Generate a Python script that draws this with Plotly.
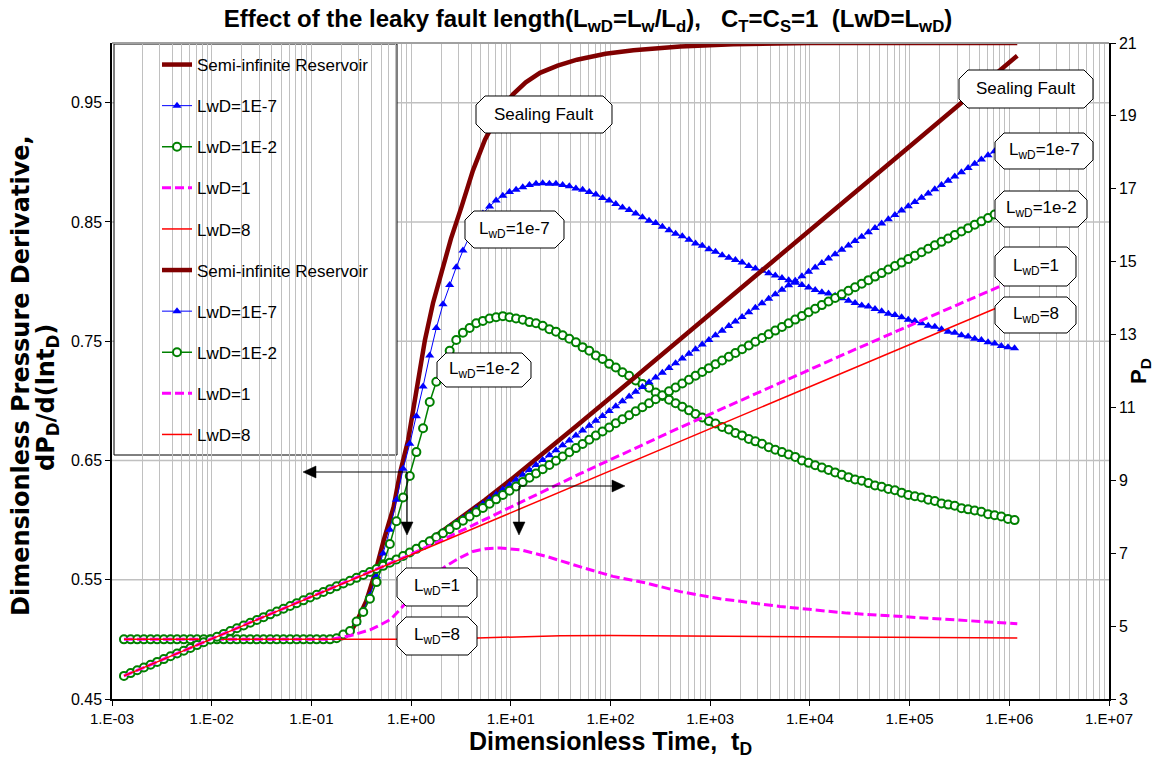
import plotly.graph_objects as go

# ---------------- data ----------------
# common log10(tD) grid of the marker series
LOG_T = [-2.880, -2.813, -2.747, -2.680, -2.613, -2.547, -2.480, -2.413, -2.347, -2.280,
         -2.213, -2.147, -2.080, -2.013, -1.947, -1.880, -1.813, -1.747, -1.680, -1.613,
         -1.547, -1.480, -1.413, -1.347, -1.280, -1.213, -1.147, -1.080, -1.013, -0.947,
         -0.880, -0.813, -0.747, -0.680, -0.613, -0.547, -0.480, -0.413, -0.347, -0.280,
         -0.213, -0.147, -0.080, -0.013, 0.053, 0.120, 0.187, 0.253, 0.320, 0.387,
         0.453, 0.520, 0.587, 0.653, 0.720, 0.787, 0.853, 0.920, 0.987, 1.053,
         1.120, 1.187, 1.253, 1.320, 1.387, 1.453, 1.520, 1.587, 1.653, 1.720,
         1.787, 1.853, 1.920, 1.987, 2.053, 2.120, 2.187, 2.253, 2.320, 2.387,
         2.453, 2.520, 2.587, 2.653, 2.720, 2.787, 2.853, 2.920, 2.987, 3.053,
         3.120, 3.187, 3.253, 3.320, 3.387, 3.453, 3.520, 3.587, 3.653, 3.720,
         3.787, 3.853, 3.920, 3.987, 4.053, 4.120, 4.187, 4.253, 4.320, 4.387,
         4.453, 4.520, 4.587, 4.653, 4.720, 4.787, 4.853, 4.920, 4.987, 5.053,
         5.120, 5.187, 5.253, 5.320, 5.387, 5.453, 5.520, 5.587, 5.653, 5.720,
         5.787, 5.853, 5.920, 5.987, 6.053]

# LwD = 1E-7 : derivative (left axis) and pressure (right axis)
BLUE_DERIV = [0.5, 0.5, 0.5, 0.5, 0.5, 0.5, 0.5, 0.5, 0.5, 0.5,
              0.5, 0.5, 0.5, 0.5, 0.5, 0.5, 0.5, 0.5, 0.5, 0.5,
              0.5, 0.5, 0.5, 0.5, 0.5, 0.5, 0.5, 0.5, 0.5, 0.5,
              0.5, 0.5, 0.501, 0.503, 0.507, 0.514, 0.524, 0.537, 0.553, 0.572,
              0.592, 0.617, 0.643, 0.664, 0.687, 0.712, 0.738, 0.761, 0.781, 0.797,
              0.812, 0.826, 0.838, 0.848, 0.857, 0.863, 0.868, 0.872, 0.875, 0.877,
              0.879, 0.881, 0.882, 0.8825, 0.882, 0.882, 0.881, 0.880, 0.878, 0.877,
              0.875, 0.873, 0.870, 0.868, 0.865, 0.862, 0.860, 0.857, 0.854, 0.851,
              0.849, 0.846, 0.843, 0.840, 0.838, 0.835, 0.832, 0.830, 0.827, 0.825,
              0.822, 0.820, 0.818, 0.816, 0.813, 0.811, 0.809, 0.807, 0.805, 0.803,
              0.801, 0.799, 0.797, 0.795, 0.793, 0.791, 0.790, 0.788, 0.786, 0.784,
              0.782, 0.780, 0.779, 0.777, 0.775, 0.773, 0.772, 0.770, 0.768, 0.767,
              0.765, 0.763, 0.762, 0.760, 0.758, 0.757, 0.755, 0.754, 0.752, 0.751,
              0.749, 0.748, 0.746, 0.745, 0.744]
BLUE_PRESS = [3.634, 3.711, 3.788, 3.864, 3.941, 4.018, 4.095, 4.172, 4.248, 4.325,
              4.402, 4.479, 4.555, 4.632, 4.709, 4.786, 4.863, 4.939, 5.016, 5.093,
              5.170, 5.246, 5.323, 5.400, 5.477, 5.554, 5.630, 5.707, 5.784, 5.861,
              5.937, 6.014, 6.091, 6.168, 6.245, 6.324, 6.403, 6.485, 6.568, 6.655,
              6.744, 6.837, 6.934, 7.034, 7.138, 7.245, 7.356, 7.471, 7.590, 7.711,
              7.834, 7.960, 8.088, 8.217, 8.348, 8.480, 8.613, 8.746, 8.880, 9.015,
              9.150, 9.285, 9.420, 9.555, 9.691, 9.826, 9.961, 10.096, 10.231, 10.366,
              10.500, 10.635, 10.768, 10.902, 11.035, 11.167, 11.299, 11.431, 11.563, 11.693,
              11.824, 11.954, 12.084, 12.213, 12.342, 12.470, 12.598, 12.726, 12.853, 12.980,
              13.106, 13.232, 13.358, 13.484, 13.609, 13.733, 13.858, 13.982, 14.106, 14.229,
              14.352, 14.475, 14.597, 14.720, 14.841, 14.963, 15.084, 15.206, 15.326, 15.447,
              15.567, 15.687, 15.807, 15.926, 16.045, 16.164, 16.283, 16.401, 16.519, 16.637,
              16.755, 16.872, 16.989, 17.106, 17.222, 17.339, 17.455, 17.571, 17.686, 17.802,
              17.917, 18.032, 18.146, 18.261, 18.375]

# LwD = 1E-2
GREEN_DERIV = [0.5, 0.5, 0.5, 0.5, 0.5, 0.5, 0.5, 0.5, 0.5, 0.5,
               0.5, 0.5, 0.5, 0.5, 0.5, 0.5, 0.5, 0.5, 0.5, 0.5,
               0.5, 0.5, 0.5, 0.5, 0.5, 0.5, 0.5, 0.5, 0.5, 0.5,
               0.5, 0.5, 0.501, 0.504, 0.507, 0.515, 0.523, 0.534, 0.548, 0.563,
               0.580, 0.599, 0.619, 0.637, 0.657, 0.677, 0.699, 0.716, 0.730, 0.742,
               0.751, 0.757, 0.761, 0.765, 0.767, 0.769, 0.770, 0.771, 0.770, 0.769,
               0.768, 0.766, 0.765, 0.763, 0.760, 0.758, 0.755, 0.752, 0.749, 0.745,
               0.742, 0.738, 0.735, 0.731, 0.728, 0.724, 0.721, 0.717, 0.714, 0.711,
               0.707, 0.704, 0.701, 0.698, 0.695, 0.692, 0.689, 0.686, 0.683, 0.681,
               0.678, 0.676, 0.673, 0.671, 0.668, 0.666, 0.664, 0.661, 0.659, 0.657,
               0.655, 0.653, 0.650, 0.648, 0.646, 0.644, 0.642, 0.640, 0.638, 0.636,
               0.634, 0.633, 0.631, 0.629, 0.628, 0.626, 0.625, 0.623, 0.621, 0.620,
               0.619, 0.617, 0.616, 0.614, 0.613, 0.612, 0.610, 0.609, 0.608, 0.607,
               0.605, 0.604, 0.603, 0.601, 0.600]
GREEN_PRESS = [3.634, 3.711, 3.788, 3.864, 3.941, 4.018, 4.095, 4.172, 4.248, 4.325,
               4.402, 4.479, 4.555, 4.632, 4.709, 4.786, 4.863, 4.939, 5.016, 5.093,
               5.170, 5.246, 5.323, 5.400, 5.477, 5.554, 5.630, 5.707, 5.784, 5.861,
               5.937, 6.014, 6.091, 6.168, 6.246, 6.324, 6.404, 6.485, 6.568, 6.653,
               6.741, 6.831, 6.925, 7.021, 7.120, 7.223, 7.328, 7.437, 7.548, 7.661,
               7.775, 7.891, 8.008, 8.125, 8.242, 8.360, 8.478, 8.597, 8.715, 8.833,
               8.951, 9.069, 9.186, 9.304, 9.420, 9.537, 9.653, 9.769, 9.884, 9.999,
               10.113, 10.227, 10.340, 10.452, 10.564, 10.676, 10.787, 10.897, 11.007, 11.116,
               11.225, 11.333, 11.441, 11.548, 11.655, 11.762, 11.868, 11.973, 12.078, 12.183,
               12.287, 12.391, 12.495, 12.598, 12.701, 12.803, 12.905, 13.007, 13.108, 13.209,
               13.310, 13.410, 13.510, 13.610, 13.709, 13.808, 13.907, 14.005, 14.103, 14.201,
               14.299, 14.396, 14.493, 14.590, 14.686, 14.783, 14.879, 14.974, 15.070, 15.165,
               15.260, 15.355, 15.450, 15.544, 15.638, 15.732, 15.826, 15.920, 16.013, 16.106,
               16.199, 16.292, 16.385, 16.477, 16.569]

# Semi-infinite reservoir (sealing fault)
SEMI_LOG_T = [-2.88, -1.5, -0.8, -0.69, -0.6, -0.54, -0.45, -0.36, -0.275, -0.175,
              -0.11, -0.03, 0.05, 0.139, 0.22, 0.307, 0.4, 0.507, 0.62, 0.741,
              0.88, 1.022, 1.15, 1.293, 1.47, 1.664, 1.95, 2.23, 2.7, 3.23,
              4.0, 5.0, 6.08]
SEMI_DERIV = [0.5, 0.5, 0.5, 0.501, 0.507, 0.516, 0.532, 0.556, 0.583, 0.611,
              0.640, 0.667, 0.705, 0.751, 0.782, 0.807, 0.836, 0.863, 0.893, 0.919,
              0.941, 0.957, 0.967, 0.975, 0.981, 0.986, 0.991, 0.994, 0.997, 0.999,
              1.0, 1.0, 1.0]
SEMI_P_LOG_T = [-2.88, -0.7, -0.54, -0.36, -0.175, -0.03, 0.139, 0.307, 0.507, 0.741,
                1.022, 1.293, 1.664, 2.23, 2.7, 3.23, 4.0, 5.0, 6.08]
SEMI_PRESS = [3.634, 6.144, 6.331, 6.553, 6.802, 7.016, 7.292, 7.593, 7.978, 8.458,
              9.065, 9.668, 10.505, 11.795, 12.87, 14.09, 15.86, 18.16, 20.65]

# LwD = 1
MAG_LOG_T = [-2.88, -0.8, -0.613, -0.412, -0.312, -0.2, -0.058, 0.089, 0.2, 0.34,
             0.48, 0.62, 0.75, 0.89, 1.1, 1.36, 1.69, 2.025, 2.36, 2.70,
             3.10, 3.70, 4.37, 5.03, 5.71, 6.08]
MAG_DERIV = [0.5, 0.5, 0.503, 0.508, 0.512, 0.517, 0.530, 0.541, 0.551, 0.561,
             0.568, 0.5737, 0.576, 0.5766, 0.575, 0.5695, 0.561, 0.5528, 0.5472, 0.540,
             0.534, 0.5276, 0.522, 0.5184, 0.515, 0.5131]
MAG_P_LOG_T = [-2.88, -0.8, -0.412, -0.058, 0.34, 0.89, 1.69, 2.70, 3.70, 4.37,
               5.03, 5.71, 6.08]
MAG_PRESS = [3.634, 6.029, 6.478, 6.900, 7.400, 8.123, 9.175, 10.452, 11.682, 12.492,
             13.282, 14.091, 14.529]

# LwD = 8
RED_LOG_T = [-2.88, 0.0, 0.5, 0.9, 1.2, 1.5, 2.0, 3.0, 4.0, 5.0, 6.08]
RED_DERIV = [0.5, 0.5, 0.5008, 0.5015, 0.5025, 0.503, 0.5032, 0.5028, 0.502, 0.5015, 0.5011]
RED_P_LOG_T = [-2.88, 0.0, 1.0, 2.0, 3.0, 4.0, 5.0, 6.08]
RED_PRESS = [3.634, 6.95, 8.104, 9.260, 10.416, 11.571, 12.724, 13.97]

SERIES_NAMES = ["Semi-infinite Reservoir", "LwD=1E-7", "LwD=1E-2", "LwD=1", "LwD=8"]
X_TICK_VALS = [1e-3, 1e-2, 1e-1, 1e0, 1e1, 1e2, 1e3, 1e4, 1e5, 1e6, 1e7]
X_TICK_TEXT = ["1.E-03", "1.E-02", "1.E-01", "1.E+00", "1.E+01", "1.E+02",
               "1.E+03", "1.E+04", "1.E+05", "1.E+06", "1.E+07"]
Y_TICK_VALS = [0.45, 0.55, 0.65, 0.75, 0.85, 0.95]
Y2_TICK_VALS = [3, 5, 7, 9, 11, 13, 15, 17, 19, 21]

# ---------------- styling ----------------
ARIAL = "Liberation Sans, Arial, sans-serif"
NARROW = "Liberation Sans Narrow, Arial Narrow, Liberation Sans, sans-serif"
WIDE = "DejaVu Sans, Verdana, sans-serif"
MAROON, BLUE, GREEN, MAGENTA, RED = "#800000", "#0000FF", "#008000", "#FF00FF", "#FF0000"
GRID = "#c0c0c0"

W, H = 1154, 766
L, R, T, B = 112, 1109, 43, 699   # plot area in pixels


def fx(px):
    return (px - L) / (R - L)


def fy(py):
    return (B - py) / (B - T)


def tt(logs):
    return [10 ** v for v in logs]


fig = go.Figure()

styles = [
    dict(mode="lines", line=dict(color=MAROON, width=4.5)),
    dict(mode="lines+markers", line=dict(color=BLUE, width=1),
         marker=dict(symbol="triangle-up", size=8, color=BLUE)),
    dict(mode="lines+markers", line=dict(color=GREEN, width=1.5),
         marker=dict(symbol="circle", size=8, color="white", line=dict(color=GREEN, width=2))),
    dict(mode="lines", line=dict(color=MAGENTA, width=3, dash="9px,4px")),
    dict(mode="lines", line=dict(color=RED, width=1.5)),
]

deriv_sets = [(SEMI_LOG_T, SEMI_DERIV), (LOG_T, BLUE_DERIV), (LOG_T, GREEN_DERIV),
              (MAG_LOG_T, MAG_DERIV), (RED_LOG_T, RED_DERIV)]
press_sets = [(SEMI_P_LOG_T, SEMI_PRESS), (LOG_T, BLUE_PRESS), (LOG_T, GREEN_PRESS),
              (MAG_P_LOG_T, MAG_PRESS), (RED_P_LOG_T, RED_PRESS)]

gi = 0
for (lt, vals), name, st in zip(deriv_sets, SERIES_NAMES, styles):
    fig.add_trace(go.Scatter(x=tt(lt), y=vals, name=name, legendgroup=f"g{gi}",
                             yaxis="y", hoverinfo="skip", **st))
    gi += 1
for (lt, vals), name, st in zip(press_sets, SERIES_NAMES, styles):
    fig.add_trace(go.Scatter(x=tt(lt), y=vals, name=name, legendgroup=f"g{gi}",
                             yaxis="y2", hoverinfo="skip", **st))
    gi += 1

# ---------------- shapes ----------------
shapes = []
# white area hiding the vertical grid in the upper-left part (overlay plot area)
shapes.append(dict(type="rect", xref="paper", yref="paper", x0=0, x1=fx(848),
                   y0=fy(454), y1=1, fillcolor="white", line=dict(width=0), layer="between"))
for v in [0.55, 0.65, 0.75, 0.85, 0.95]:
    shapes.append(dict(type="line", xref="paper", yref="y", x0=0, x1=1, y0=v, y1=v,
                       line=dict(color=GRID, width=1.5), layer="between"))
# legend frame
shapes.append(dict(type="rect", xref="paper", yref="paper", x0=fx(114), x1=fx(397),
                   y0=fy(455), y1=fy(44), fillcolor="white",
                   line=dict(color="black", width=1), layer="between"))
# top border
shapes.append(dict(type="line", xref="paper", yref="paper", x0=0, x1=1, y0=1, y1=1,
                   line=dict(color="#a0a0a0", width=2), layer="above"))


def poly(pts, fill="white", lw=1.0):
    path = "M " + " L ".join(f"{fx(a):.5f},{fy(b):.5f}" for a, b in pts) + " Z"
    return dict(type="path", xref="paper", yref="paper", path=path, fillcolor=fill,
                line=dict(color="black", width=lw), layer="above")


def octagon(x0, y0, x1, y1, c=9):
    return poly([(x0 + c, y0), (x1 - c, y0), (x1, y0 + c), (x1, y1 - c),
                 (x1 - c, y1), (x0 + c, y1), (x0, y1 - c), (x0, y0 + c)])


def seg(x0, y0, x1, y1):
    return dict(type="line", xref="paper", yref="paper", x0=fx(x0), y0=fy(y0),
                x1=fx(x1), y1=fy(y1), line=dict(color="black", width=1.2), layer="above")


labels = [
    ((476, 96, 612, 133), "Sealing Fault"),
    ((465, 211, 564, 248), "L<sub>wD</sub>=1e-7"),
    ((437, 353, 531, 387), "L<sub>wD</sub>=1e-2"),
    ((397, 568, 477, 606), "L<sub>wD</sub>=1"),
    ((397, 617, 477, 655), "L<sub>wD</sub>=8"),
    ((959, 70, 1093, 108), "Sealing Fault"),
    ((995, 133, 1093, 169), "L<sub>wD</sub>=1e-7"),
    ((995, 191, 1087, 227), "L<sub>wD</sub>=1e-2"),
    ((995, 247, 1076, 286), "L<sub>wD</sub>=1"),
    ((995, 297, 1076, 333), "L<sub>wD</sub>=8"),
]
annotations = []
for (x0, y0, x1, y1), txt in labels:
    shapes.append(octagon(x0, y0, x1, y1))
    annotations.append(dict(xref="paper", yref="paper", x=fx((x0 + x1) / 2), y=fy((y0 + y1) / 2),
                            text=txt, showarrow=False, xanchor="center", yanchor="middle",
                            font=dict(family=ARIAL, size=17, color="black")))

# L-shaped pointer arrows (derivative -> left axis, pressure -> right axis)
shapes += [seg(315, 472, 407, 472), seg(407, 472, 407, 522),
           seg(519, 486, 612, 486), seg(519, 486, 519, 522)]
shapes += [poly([(303, 472), (316, 466), (316, 478)], fill="black", lw=0.5),
           poly([(407, 535), (401, 522), (413, 522)], fill="black", lw=0.5),
           poly([(625, 486), (612, 480), (612, 492)], fill="black", lw=0.5),
           poly([(519, 535), (513, 522), (525, 522)], fill="black", lw=0.5)]

# left axis title (two lines)
annotations.append(dict(xref="paper", yref="paper", x=fx(21), y=fy(376), textangle=-90,
                        text="<b>Dimensionless Pressure Derivative,</b>", showarrow=False,
                        xanchor="center", yanchor="middle",
                        font=dict(family=WIDE, size=24, color="black")))
annotations.append(dict(xref="paper", yref="paper", x=fx(47), y=fy(398), textangle=-90,
                        text="<b>dP<sub>D</sub>/d(lnt<sub>D</sub>)</b>", showarrow=False,
                        xanchor="center", yanchor="middle",
                        font=dict(family=WIDE, size=24, color="black")))

minor_vals = [m * 10 ** e for e in range(-3, 7) for m in range(2, 10)]

fig.update_layout(
    width=W, height=H, autosize=False,
    margin=dict(l=L, r=W - R, t=T, b=H - B, pad=0),
    paper_bgcolor="white", plot_bgcolor="white",
    font=dict(family=ARIAL, color="black"),
    title=dict(text="<b>Effect of the leaky fault length(L<sub>wD</sub>=L<sub>w</sub>/L<sub>d</sub>),   "
                    "C<sub>T</sub>=C<sub>S</sub>=1  (LwD=L<sub>wD</sub>)</b>",
               xref="container", x=588 / W, xanchor="center",
               yref="container", y=1 - 19 / H, yanchor="middle",
               font=dict(family=NARROW, size=24, color="black")),
    xaxis=dict(type="log", range=[-3, 7], tickmode="array", tickvals=X_TICK_VALS,
               ticktext=X_TICK_TEXT, showgrid=True, gridcolor=GRID, gridwidth=1,
               minor=dict(tickmode="array", tickvals=minor_vals, showgrid=True,
                          gridcolor=GRID, gridwidth=1, ticks=""),
               ticks="outside", ticklen=5, tickcolor="black", showline=True,
               linecolor="black", linewidth=1.5, zeroline=False, automargin=False,
               tickfont=dict(family=NARROW, size=15),
               title=dict(text="<b>Dimensionless Time,  t<sub>D</sub></b>", standoff=3,
                          font=dict(family=NARROW, size=25))),
    yaxis=dict(range=[0.45, 1.0], tickmode="array", tickvals=Y_TICK_VALS,
               ticktext=[f"{v:.2f}" for v in Y_TICK_VALS], showgrid=False,
               ticks="outside", ticklen=5, tickcolor="black", showline=True,
               linecolor="black", linewidth=1.5, zeroline=False, automargin=False,
               tickfont=dict(family=ARIAL, size=16)),
    yaxis2=dict(range=[3, 21], overlaying="y", side="right", tickmode="array",
                tickvals=Y2_TICK_VALS, showgrid=False, ticks="outside", ticklen=5,
                tickcolor="black", showline=True, linecolor="black", linewidth=1.5,
                zeroline=False, automargin=False, tickfont=dict(family=ARIAL, size=16),
                title=dict(text="<b>P<sub>D</sub></b>", standoff=0,
                           font=dict(family=ARIAL, size=22))),
    legend=dict(x=fx(157), y=fy(47), xanchor="left", yanchor="top",
                bgcolor="rgba(0,0,0,0)", borderwidth=0, traceorder="grouped",
                tracegroupgap=16, font=dict(family=ARIAL, size=17)),
    shapes=shapes,
    annotations=annotations,
)

fig.write_html("out.html")
